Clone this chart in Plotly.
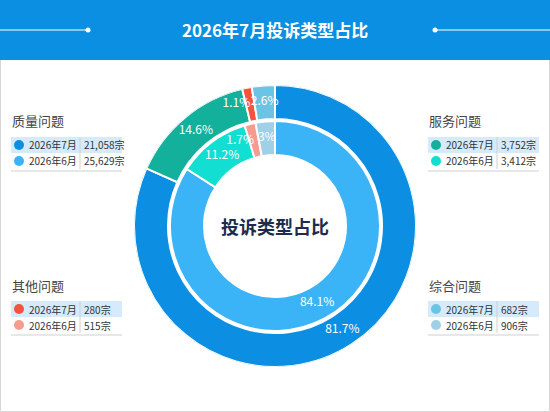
import plotly.graph_objects as go

W, H = 550, 412

# ---- data ----
categories = ["质量问题", "服务问题", "其他问题", "综合问题"]
months = ["2026年7月", "2026年6月"]
jul_values = [21058, 3752, 280, 682]
jun_values = [25629, 3412, 515, 906]
jul_colors = ["#0c8fe2", "#13b19b", "#f4533d", "#6cc4e4"]
jun_colors = ["#3bb3f7", "#12dfd1", "#f59c8e", "#a0d0e8"]
label_anchor = ["middle center", "middle center", "middle left", "middle center"]

title_text = "2026年7月投诉类型占比"
center_text = "投诉类型占比"
FONT = "Noto Sans CJK SC, Microsoft YaHei, sans-serif"

CX, CY, R = 275, 226, 141          # ring centre / outer radius (px)
rings = [  # (values, colours, inner radius, outer radius)
    (jul_values, jul_colors, 107, 141),
    (jun_values, jun_colors, 71, 105),
]


def px(x):
    return x / W


def py(y):
    return 1 - y / H


def pct_text(vals):
    t = sum(vals)
    return [f"{round(v / t * 100, 1):g}%" for v in vals]


def slice_angles(vals):
    t = sum(vals)
    mids, spans, cum = [], [], 0
    for v in vals:
        spans.append(v / t * 360)
        mids.append((cum + v / 2) / t * 360)
        cum += v
    return mids, spans


fig = go.Figure()

for k, (vals, cols, r_in, r_out) in enumerate(rings):
    mids, spans = slice_angles(vals)
    fig.add_trace(go.Barpolar(
        theta=mids, width=spans, r=[r_out - r_in] * len(vals), base=r_in,
        marker=dict(color=cols, line=dict(color="white", width=2)),
        customdata=vals, text=categories, name=months[k],
        hovertemplate="%{text}: %{customdata}<extra>" + months[k] + "</extra>",
        showlegend=False,
    ))
for k, (vals, cols, r_in, r_out) in enumerate(rings):
    mids, spans = slice_angles(vals)
    fig.add_trace(go.Scatterpolar(
        theta=mids, r=[(r_in + r_out) / 2] * len(vals), mode="text",
        text=pct_text(vals), textposition=label_anchor,
        textfont=dict(color="white", size=12, family=FONT),
        hoverinfo="skip", showlegend=False,
    ))

shapes = []
annotations = []

# panel border
shapes.append(dict(type="rect", xref="paper", yref="paper", layer="below",
                   x0=px(0.5), x1=px(549.5), y0=py(411.5), y1=py(58),
                   line=dict(color="#d6d6d6", width=1), fillcolor="white"))
# header band
shapes.append(dict(type="rect", xref="paper", yref="paper", layer="below",
                   x0=0, x1=1, y0=py(60), y1=1, line=dict(width=0), fillcolor="#0b8fe2"))
# header decorative lines + dots
shapes.append(dict(type="line", xref="paper", yref="paper", x0=0, x1=px(88), y0=py(30), y1=py(30),
                   line=dict(color="white", width=1.2)))
shapes.append(dict(type="line", xref="paper", yref="paper", x0=px(435), x1=1, y0=py(30), y1=py(30),
                   line=dict(color="white", width=1.2)))
for cx in (88, 435):
    shapes.append(dict(type="circle", xref="paper", yref="paper",
                       x0=px(cx - 2.5), x1=px(cx + 2.5), y0=py(30 + 2.5), y1=py(30 - 2.5),
                       fillcolor="white", line=dict(width=0)))

annotations.append(dict(text=f"<b>{title_text}</b>", x=0.5, y=py(30), xref="paper", yref="paper",
                        showarrow=False, font=dict(size=17, color="white", family=FONT),
                        xanchor="center", yanchor="middle"))
annotations.append(dict(text=f"<b>{center_text}</b>", x=px(CX), y=py(CY), xref="paper", yref="paper",
                        showarrow=False, font=dict(size=18, color="#1d2c4c", family=FONT),
                        xanchor="center", yanchor="middle"))

# legend tables
blocks = [(11, 121), (428, 121), (11, 285), (428, 285)]
for i, (x0, ty) in enumerate(blocks):
    annotations.append(dict(text=categories[i], x=px(x0 - 1), y=py(ty), xref="paper", yref="paper",
                            showarrow=False, font=dict(size=13, color="#444444", family=FONT),
                            xanchor="left", yanchor="middle"))
    r0 = ty + 16
    shapes.append(dict(type="rect", xref="paper", yref="paper", layer="below",
                       x0=px(x0), x1=px(x0 + 111), y0=py(r0 + 16), y1=py(r0),
                       fillcolor="#d5ebfb", line=dict(width=0)))
    shapes.append(dict(type="line", xref="paper", yref="paper", x0=px(x0 + 69), x1=px(x0 + 69),
                       y0=py(r0 + 32), y1=py(r0), line=dict(color="#cfcfcf", width=1)))
    shapes.append(dict(type="line", xref="paper", yref="paper", x0=px(x0), x1=px(x0 + 111),
                       y0=py(r0 + 34), y1=py(r0 + 34), line=dict(color="#cfcfcf", width=1)))
    rows = [(months[0], jul_values[i], jul_colors[i]), (months[1], jun_values[i], jun_colors[i])]
    for j, (m, v, c) in enumerate(rows):
        cy = r0 + 8 + 16 * j
        shapes.append(dict(type="circle", xref="paper", yref="paper",
                           x0=px(x0 + 3), x1=px(x0 + 13), y0=py(cy + 5), y1=py(cy - 5),
                           fillcolor=c, line=dict(width=0)))
        annotations.append(dict(text=m, x=px(x0 + 16), y=py(cy), xref="paper", yref="paper",
                                showarrow=False, font=dict(size=10, color="#333333", family=FONT),
                                xanchor="left", yanchor="middle"))
        annotations.append(dict(text=f"{v:,}宗", x=px(x0 + 71), y=py(cy), xref="paper", yref="paper",
                                showarrow=False, font=dict(size=10, color="#333333", family=FONT),
                                xanchor="left", yanchor="middle"))

fig.update_layout(
    width=W, height=H, margin=dict(l=0, r=0, t=0, b=0),
    paper_bgcolor="white", plot_bgcolor="white",
    shapes=shapes, annotations=annotations,
    font=dict(family=FONT),
    polar=dict(
        domain=dict(x=[px(CX - R), px(CX + R)], y=[py(CY + R), py(CY - R)]),
        bgcolor="rgba(0,0,0,0)",
        radialaxis=dict(range=[0, R], visible=False),
        angularaxis=dict(rotation=90, direction="clockwise", visible=False),
        bargap=0,
    ),
)

fig.write_html("out.html", config={"displayModeBar": False},
               post_script="document.body.style.margin='0';document.body.style.overflow='hidden';")
